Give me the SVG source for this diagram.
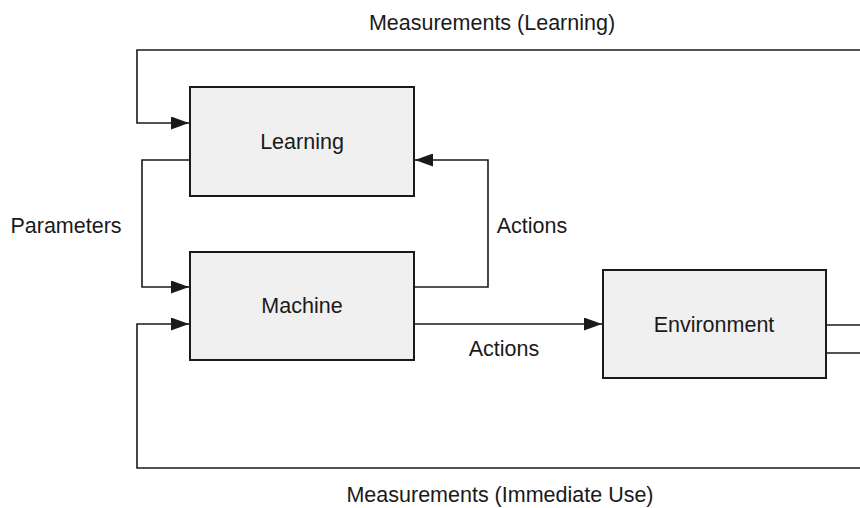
<svg xmlns="http://www.w3.org/2000/svg" width="860" height="508" viewBox="0 0 860 508">
<style>
.box{fill:#f0f0f0;stroke:#1a1a1a;stroke-width:2}
.t{font-family:"Liberation Sans",Arial,sans-serif;font-size:21.5px;fill:#1a1a1a}
.c{fill:none;stroke:#1a1a1a;stroke-width:1.6}
</style>
<defs>
<marker id="ah" markerWidth="18" markerHeight="13" refX="18" refY="6.5" orient="auto" markerUnits="userSpaceOnUse">
<path d="M0,0 L18,6.5 L0,13 z" fill="#1a1a1a"/>
</marker>
</defs>
<rect width="860" height="508" fill="#fff"/>
<g id="connectors">
<path class="c" d="M860,50 H137 V123 H189" marker-end="url(#ah)"/>
<path class="c" d="M190,160 H142 V287 H189" marker-end="url(#ah)"/>
<path class="c" d="M414,287 H488 V160 H415" marker-end="url(#ah)"/>
<path class="c" d="M414,324 H602" marker-end="url(#ah)"/>
<path class="c" d="M826,325 H860"/>
<path class="c" d="M826,353 H860 M860,468 H137 V324 H189" marker-end="url(#ah)"/>
</g>
<g id="learning">
<rect class="box" x="190" y="87" width="224" height="109"/>
<text class="t" x="302" y="149" text-anchor="middle">Learning</text>
</g>
<g id="machine">
<rect class="box" x="190" y="252" width="224" height="108"/>
<text class="t" x="302" y="313" text-anchor="middle">Machine</text>
</g>
<g id="environment">
<rect class="box" x="603" y="270" width="223" height="108"/>
<text class="t" x="714" y="332" text-anchor="middle">Environment</text>
</g>
<g id="labels">
<text class="t" x="492" y="30" text-anchor="middle">Measurements (Learning)</text>
<text class="t" x="66" y="233" text-anchor="middle">Parameters</text>
<text class="t" x="532" y="233" text-anchor="middle">Actions</text>
<text class="t" x="504" y="356" text-anchor="middle">Actions</text>
<text class="t" x="500" y="502" text-anchor="middle">Measurements (Immediate Use)</text>
</g>
</svg>
